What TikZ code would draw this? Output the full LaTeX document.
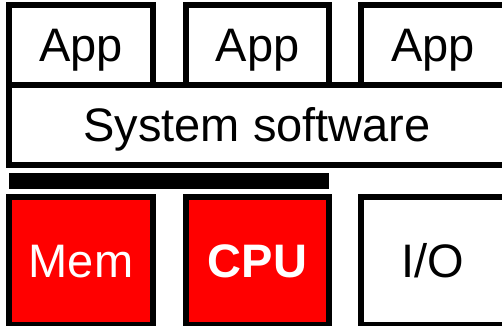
\documentclass[tikz,border=0pt]{standalone}
\usepackage{fontspec}
\setmainfont{Liberation Sans}
\definecolor{boxred}{RGB}{255,0,0}
\begin{document}
\begin{tikzpicture}[x=1pt,y=-1pt,
  blk/.style={draw=black, line width=5.5pt, inner sep=0pt, minimum height=80pt,
    text height=33.6pt, text depth=0pt,
    font=\fontsize{47}{50}\selectfont, text=black},
  hw/.style={blk, minimum height=128pt},
  redbox/.style={hw, fill=boxred, text=white},
  busbar/.style={fill=black, draw=none, inner sep=0pt, minimum width=320pt, minimum height=16pt}]
\clip (0,0) rectangle (502,325);
\fill[white] (0,0) rectangle (502,325);
\node[blk, minimum width=144pt] (app1) at (81,45) {App};
\node[blk, minimum width=143pt] (app2) at (257.5,45) {App};
\node[blk, minimum width=144pt] (app3) at (433,45) {App};
\node[blk, minimum width=496pt] (sys) at (257,125) {System software};
\node[busbar] (bus) at (169,181) {};
\node[redbox, minimum width=144pt] (mem) at (81,261) {Mem};
\node[redbox, minimum width=143pt, font=\fontsize{47}{50}\selectfont\bfseries] (cpu) at (257.5,261) {CPU};
\node[hw, minimum width=144pt] (io) at (433,261) {I/O};
\end{tikzpicture}
\end{document}
